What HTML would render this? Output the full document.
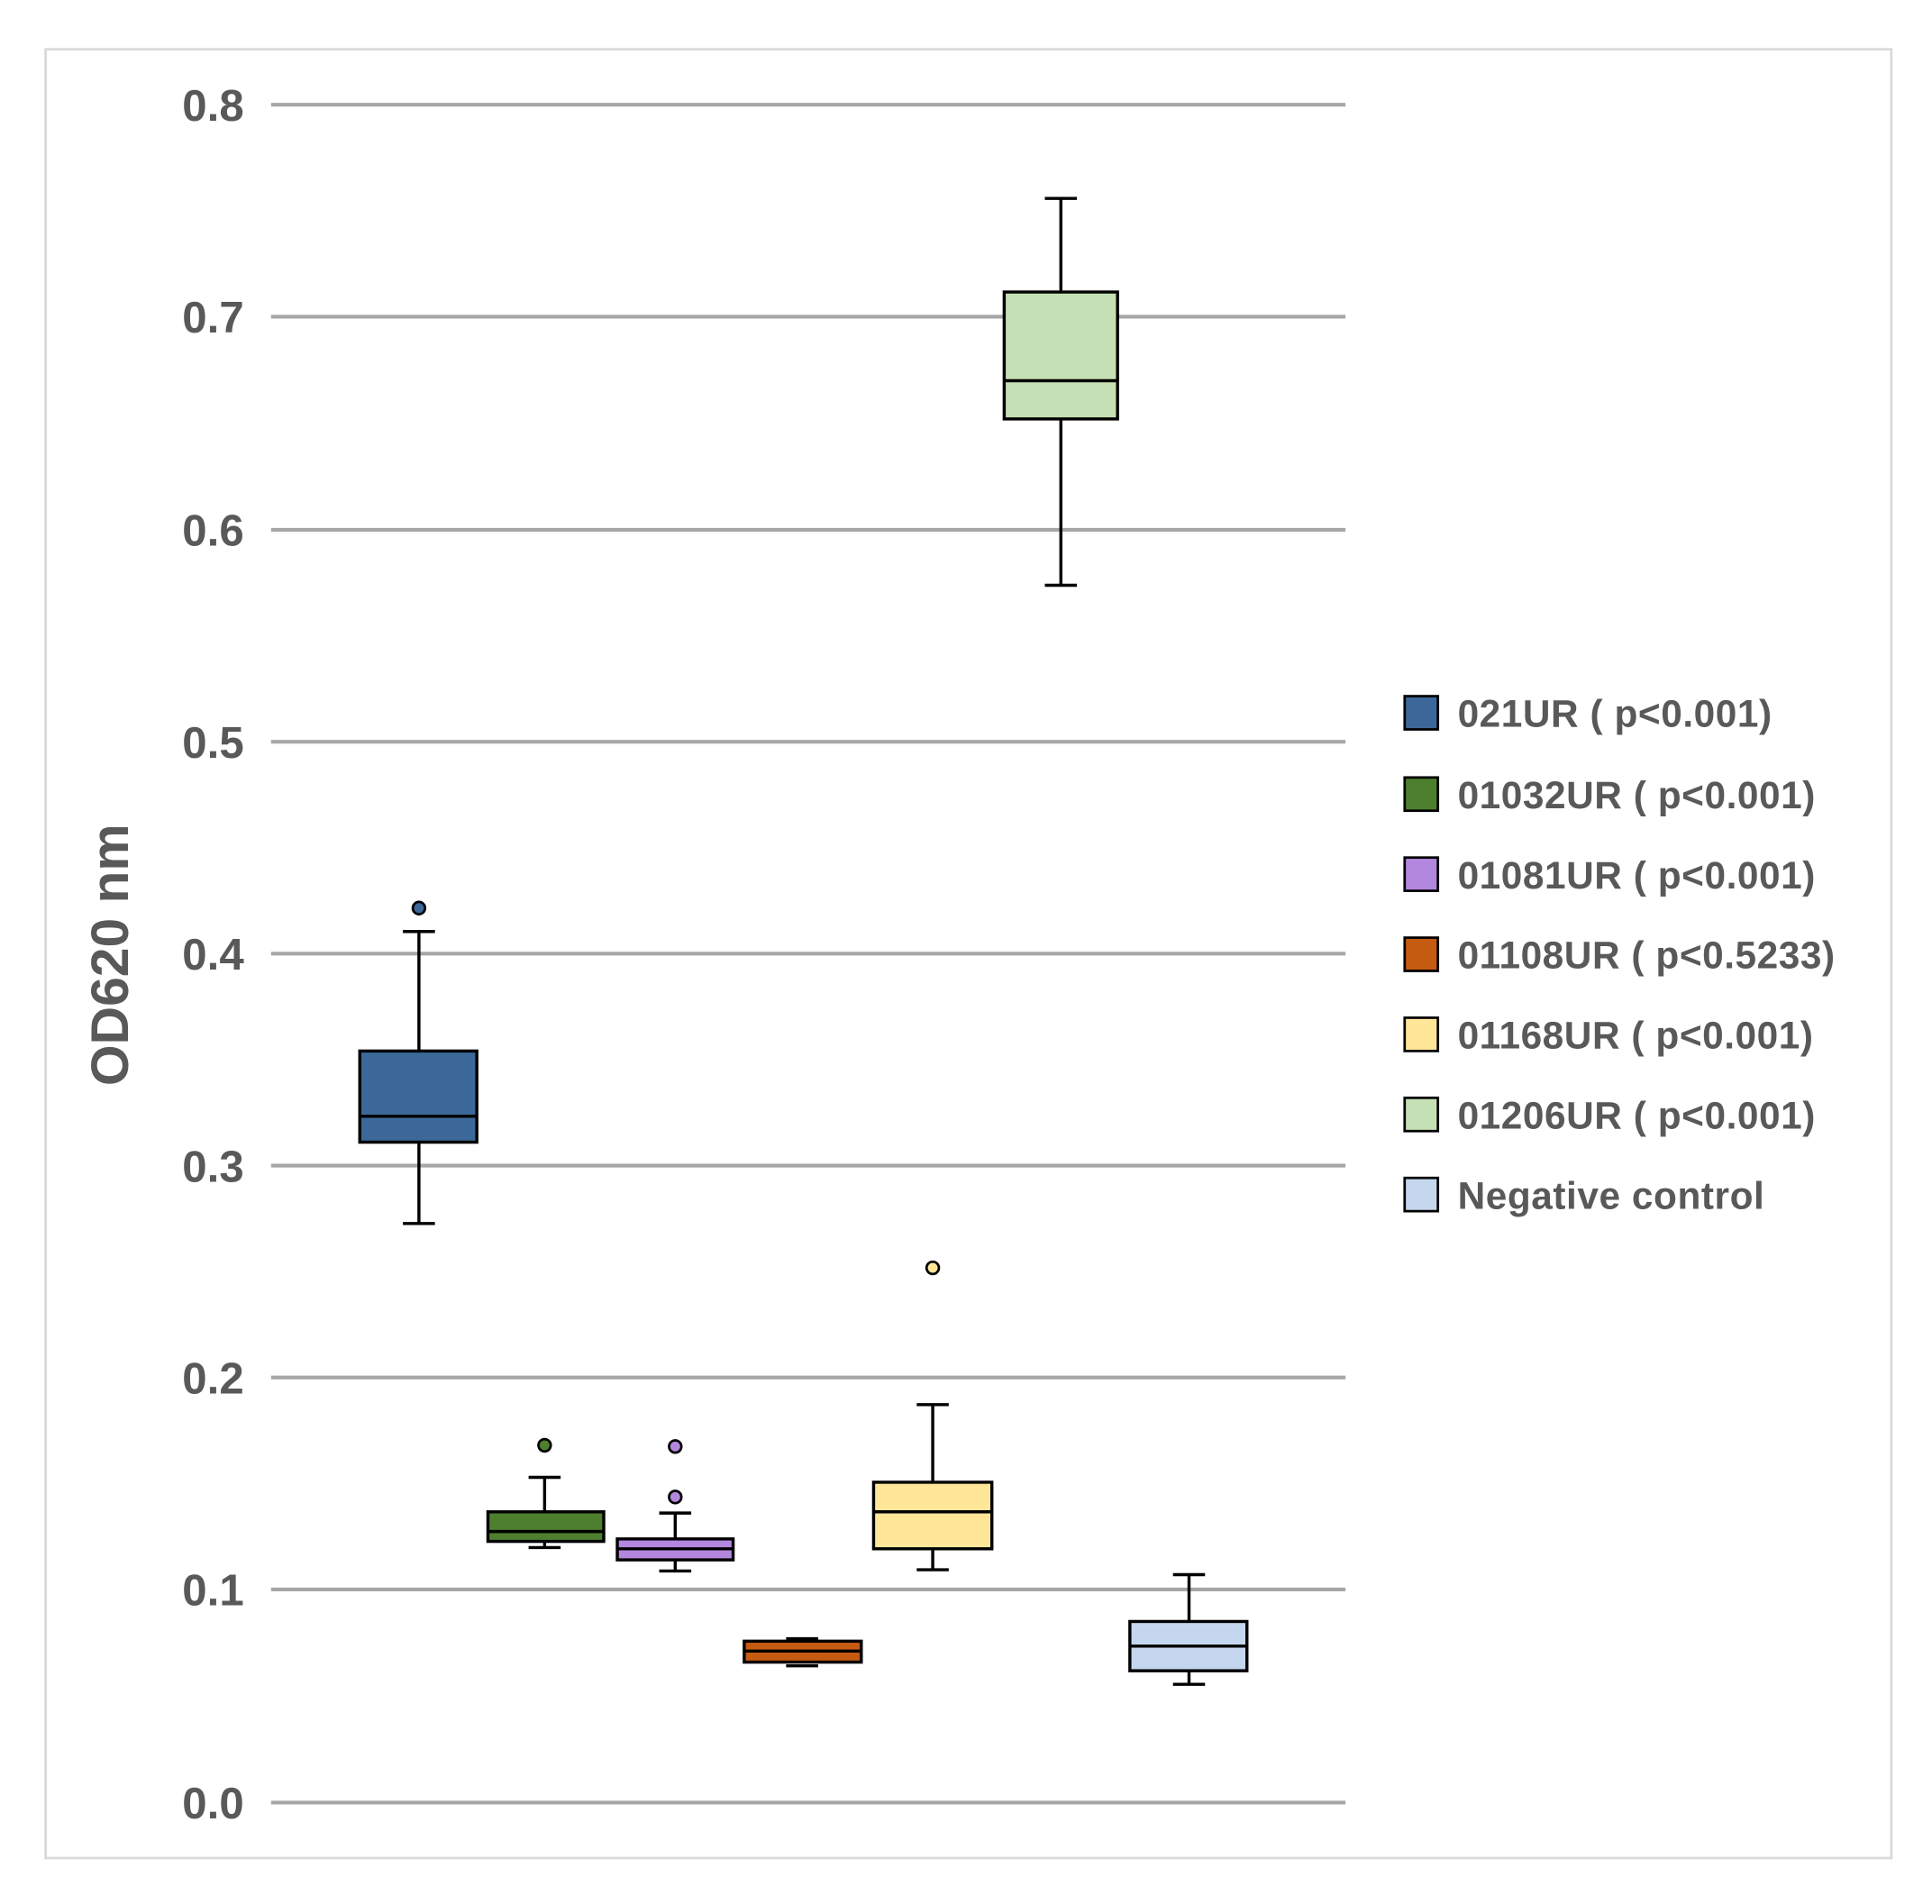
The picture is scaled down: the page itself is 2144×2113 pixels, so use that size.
<!DOCTYPE html>
<html><head><meta charset="utf-8"><style>html,body{margin:0;padding:0;background:#fff}svg{display:block}</style></head>
<body>
<svg width="2144" height="2113" viewBox="0 0 1568 1545.3" preserveAspectRatio="none" xmlns="http://www.w3.org/2000/svg" font-family="Liberation Sans, sans-serif">
<rect x="0" y="0" width="1568" height="1546" fill="#fff"/>
<rect x="37" y="40" width="1498" height="1468" fill="#fff" stroke="#d9d9d9" stroke-width="2"/>
<g stroke="#a6a6a6" stroke-width="3">
<line x1="220" x2="1092" y1="85" y2="85"/><line x1="220" x2="1092" y1="257" y2="257"/>
<line x1="220" x2="1092" y1="430" y2="430"/><line x1="220" x2="1092" y1="602" y2="602"/>
<line x1="220" x2="1092" y1="774" y2="774"/><line x1="220" x2="1092" y1="946" y2="946"/>
<line x1="220" x2="1092" y1="1118" y2="1118"/><line x1="220" x2="1092" y1="1290" y2="1290"/>
<line x1="220" x2="1092" y1="1463" y2="1463"/>
</g>
<g fill="#595959" font-size="36" font-weight="bold" text-anchor="end">
<text x="198" y="98">0.8</text><text x="198" y="270">0.7</text><text x="198" y="443">0.6</text>
<text x="198" y="615">0.5</text><text x="198" y="787">0.4</text><text x="198" y="959">0.3</text>
<text x="198" y="1131">0.2</text><text x="198" y="1303">0.1</text><text x="198" y="1476">0.0</text>
</g>
<text transform="translate(104,775) rotate(-90)" text-anchor="middle" fill="#595959" font-size="43" font-weight="bold">OD620 nm</text>
<g stroke="#000" stroke-width="2.5">
<line x1="340" x2="340" y1="756" y2="993"/><line x1="327" x2="353" y1="756" y2="756"/><line x1="327" x2="353" y1="993" y2="993"/>
<rect x="292" y="853" width="95" height="74" fill="#3B6898"/><line x1="292" x2="387" y1="906" y2="906"/>
<circle cx="340" cy="737" r="5" fill="#3B6898" stroke-width="2"/>
<line x1="442" x2="442" y1="1199" y2="1256"/><line x1="429" x2="455" y1="1199" y2="1199"/><line x1="429" x2="455" y1="1256" y2="1256"/>
<rect x="396" y="1227" width="94" height="24" fill="#4E7F2E"/><line x1="396" x2="490" y1="1243" y2="1243"/>
<circle cx="442" cy="1173" r="5" fill="#4E7F2E" stroke-width="2"/>
<line x1="548" x2="548" y1="1228" y2="1275"/><line x1="535" x2="561" y1="1228" y2="1228"/><line x1="535" x2="561" y1="1275" y2="1275"/>
<rect x="501" y="1249" width="94" height="17" fill="#B487DE"/><line x1="501" x2="595" y1="1257" y2="1257"/>
<circle cx="548" cy="1174" r="5" fill="#B487DE" stroke-width="2"/><circle cx="548" cy="1215" r="5" fill="#B487DE" stroke-width="2"/>
<line x1="638" x2="664" y1="1330" y2="1330"/><line x1="638" x2="664" y1="1352" y2="1352"/>
<rect x="604" y="1332" width="95" height="17" fill="#C55A11"/><line x1="604" x2="699" y1="1340" y2="1340"/>
<line x1="757" x2="757" y1="1140" y2="1274"/><line x1="744" x2="770" y1="1140" y2="1140"/><line x1="744" x2="770" y1="1274" y2="1274"/>
<rect x="709" y="1203" width="96" height="54" fill="#FFE699"/><line x1="709" x2="805" y1="1227" y2="1227"/>
<circle cx="757" cy="1029" r="5" fill="#FFE699" stroke-width="2"/>
<line x1="861" x2="861" y1="161" y2="475"/><line x1="848" x2="874" y1="161" y2="161"/><line x1="848" x2="874" y1="475" y2="475"/>
<rect x="815" y="237" width="92" height="103" fill="#C5E0B4"/><line x1="815" x2="907" y1="309" y2="309"/>
<line x1="965" x2="965" y1="1278" y2="1367"/><line x1="952" x2="978" y1="1278" y2="1278"/><line x1="952" x2="978" y1="1367" y2="1367"/>
<rect x="917" y="1316" width="95" height="40" fill="#C5D7EE"/><line x1="917" x2="1012" y1="1336" y2="1336"/>
</g>
<g stroke="#000" stroke-width="2">
<rect x="1140" y="565" width="27" height="27" fill="#3B6898"/>
<rect x="1140" y="631" width="27" height="27" fill="#4E7F2E"/>
<rect x="1140" y="696" width="27" height="27" fill="#B487DE"/>
<rect x="1140" y="761" width="27" height="27" fill="#C55A11"/>
<rect x="1140" y="826" width="27" height="27" fill="#FFE699"/>
<rect x="1140" y="891" width="27" height="27" fill="#C5E0B4"/>
<rect x="1140" y="956" width="27" height="27" fill="#C5D7EE"/>
</g>
<g fill="#595959" font-size="31" font-weight="bold" letter-spacing="0.4">
<text x="1183" y="590">021UR ( p&lt;0.001)</text>
<text x="1183" y="656">01032UR ( p&lt;0.001)</text>
<text x="1183" y="721">01081UR ( p&lt;0.001)</text>
<text x="1183" y="786">01108UR ( p&lt;0.5233)</text>
<text x="1183" y="851">01168UR ( p&lt;0.001)</text>
<text x="1183" y="916">01206UR ( p&lt;0.001)</text>
<text x="1183" y="981">Negative control</text>
</g>
</svg>
</body></html>
